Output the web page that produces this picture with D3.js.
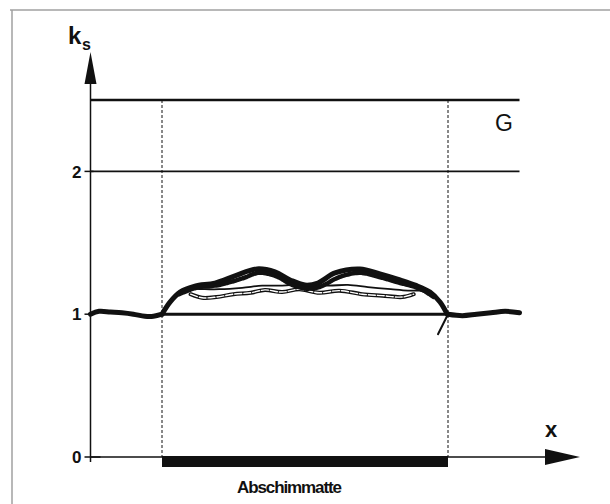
<!DOCTYPE html>
<html>
<head>
<meta charset="utf-8">
<script src="https://cdn.jsdelivr.net/npm/d3@7"></script>
<style>
  body { margin: 0; background: #fff; }
  svg { display: block; }
  text { font-family: "Liberation Sans", Arial, sans-serif; fill: #111; }
</style>
</head>
<body>
<div id="chart"></div>
<script>
// x: 0 = start of mat, 1 = end of mat; y: k_s
const yTicks = [0, 1, 2];
const levelLines = [2, 2.5];
const matExtent = [0, 1];

const outsideLeft = [[-0.25, 1.0], [-0.22, 1.02], [-0.18, 1.015], [-0.14, 1.01], [-0.1, 1.0], [-0.06, 0.985], [-0.03, 0.985], [0, 1.0]];
const outsideRight = [[1.0, 1.0], [1.05, 0.99], [1.1, 1.0], [1.15, 1.01], [1.2, 1.02], [1.25, 1.01]];

const upperSolid = [[0, 1.0], [0.028, 1.085], [0.063, 1.155], [0.115, 1.197], [0.185, 1.218], [0.255, 1.268], [0.332, 1.317],
  [0.395, 1.296], [0.448, 1.24], [0.5, 1.204], [0.545, 1.218], [0.605, 1.289], [0.692, 1.317], [0.762, 1.282],
  [0.832, 1.24], [0.885, 1.204], [0.937, 1.155], [0.972, 1.085], [0.997, 1.0]];
const upperDashed = [[0.06, 1.14], [0.12, 1.185], [0.2, 1.205], [0.28, 1.25], [0.34, 1.29], [0.4, 1.265], [0.45, 1.21],
  [0.5, 1.18], [0.55, 1.19], [0.62, 1.26], [0.69, 1.29], [0.76, 1.26], [0.83, 1.22], [0.9, 1.18], [0.95, 1.12]];
const lowerSolid = [[0.07, 1.15], [0.1, 1.175], [0.15, 1.175], [0.2, 1.175], [0.28, 1.185], [0.35, 1.2], [0.42, 1.2],
  [0.5, 1.21], [0.58, 1.2], [0.65, 1.205], [0.72, 1.19], [0.8, 1.175], [0.86, 1.165], [0.9, 1.165], [0.93, 1.15]];
const lowerOutlined = [[0.1, 1.14], [0.14, 1.115], [0.19, 1.12], [0.25, 1.14], [0.31, 1.15], [0.36, 1.17], [0.42, 1.155],
  [0.48, 1.175], [0.55, 1.15], [0.62, 1.165], [0.7, 1.14], [0.77, 1.13], [0.84, 1.12], [0.88, 1.14]];
const edgeSpike = [[0.965, 0.86], [1.0, 1.0]];

const width = 610, height = 504;
const x = d3.scaleLinear().domain([0, 1]).range([162, 448]);
const y = d3.scaleLinear().domain([0, 2.5]).range([457, 100]);
const x0 = x(-0.25), xEnd = x(1.25);

const svg = d3.select("#chart").append("svg").attr("width", width).attr("height", height);

// frame
svg.append("line").attr("x1", 10).attr("x2", 610).attr("y1", 10).attr("y2", 10)
  .attr("stroke", "#a0a0a0").attr("stroke-width", 1.5);
svg.append("line").attr("x1", 12).attr("x2", 12).attr("y1", 10).attr("y2", 504)
  .attr("stroke", "#a0a0a0").attr("stroke-width", 1.5);

// level lines
svg.selectAll(".level").data(levelLines).join("line")
  .attr("x1", x0).attr("x2", xEnd)
  .attr("y1", d => y(d)).attr("y2", d => y(d))
  .attr("stroke", "#111").attr("stroke-width", d => d === 2.5 ? 2.4 : 1.7);

// dashed mat borders
svg.selectAll(".border").data(matExtent).join("line")
  .attr("x1", d => x(d)).attr("x2", d => x(d))
  .attr("y1", y(2.5)).attr("y2", y(0))
  .attr("stroke", "#111").attr("stroke-width", 1).attr("stroke-dasharray", "3,2");

// k_s = 1 over the mat
svg.append("line").attr("x1", x(0)).attr("x2", x(1)).attr("y1", y(1)).attr("y2", y(1))
  .attr("stroke", "#111").attr("stroke-width", 3);

// axes
svg.append("line").attr("x1", x0).attr("x2", x0).attr("y1", y(0) + 5).attr("y2", 80)
  .attr("stroke", "#111").attr("stroke-width", 1.5);
svg.append("path").attr("d", `M${x0 - 6},84 L${x0},52 L${x0 + 6},84 Z`).attr("fill", "#111");
svg.append("line").attr("x1", x0).attr("x2", 548).attr("y1", y(0)).attr("y2", y(0))
  .attr("stroke", "#111").attr("stroke-width", 1.5);
svg.append("path").attr("d", `M545,${y(0) - 8} L580,${y(0)} L545,${y(0) + 8} Z`).attr("fill", "#111");

svg.selectAll(".tick").data(yTicks).join("line")
  .attr("x1", x0 - 6).attr("x2", d => d === 0 ? x0 + 10 : x0 + 3)
  .attr("y1", d => y(d)).attr("y2", d => y(d))
  .attr("stroke", "#111").attr("stroke-width", 1.5);
svg.selectAll(".ticklabel").data(yTicks).join("text")
  .attr("x", x0 - 9).attr("y", d => y(d)).attr("dy", "0.36em")
  .attr("text-anchor", "end").attr("font-size", 17).attr("font-weight", "bold")
  .text(d => d);

// mat bar
svg.append("rect").attr("x", x(0)).attr("y", y(0) - 1).attr("width", x(1) - x(0)).attr("height", 11)
  .attr("fill", "#111");

// curves
const line = d3.line().x(d => x(d[0])).y(d => y(d[1])).curve(d3.curveCatmullRom.alpha(0.5));
const g = svg.append("g").attr("fill", "none").attr("stroke", "#111").attr("stroke-linecap", "round");
g.append("path").attr("d", line(lowerOutlined)).attr("stroke-width", 4);
g.append("path").attr("d", line(lowerOutlined)).attr("stroke", "#fff").attr("stroke-width", 1.4)
  .attr("stroke-dasharray", "7,2");
g.append("path").attr("d", line(lowerSolid)).attr("stroke-width", 1.8);
g.append("path").attr("d", line(upperSolid)).attr("stroke-width", 5);
g.append("path").attr("d", line(upperDashed)).attr("stroke-width", 4.5).attr("stroke-dasharray", "4,1.5");
g.append("path").attr("d", line(outsideLeft)).attr("stroke-width", 5);
g.append("path").attr("d", line(outsideRight)).attr("stroke-width", 5);
g.append("path").attr("d", d3.line().x(d => x(d[0])).y(d => y(d[1]))(edgeSpike)).attr("stroke-width", 2);

// labels
svg.append("text").attr("x", 68).attr("y", 44).attr("font-size", 24).attr("font-weight", "bold").text("k");
svg.append("text").attr("x", 82).attr("y", 50).attr("font-size", 16).attr("font-weight", "bold").text("s");
svg.append("text").attr("x", 504).attr("y", 131).attr("font-size", 23).attr("text-anchor", "middle").text("G");
svg.append("text").attr("x", 551).attr("y", 437).attr("font-size", 22).attr("font-weight", "bold")
  .attr("text-anchor", "middle").text("x");
svg.append("text").attr("x", 289).attr("y", 493).attr("font-size", 17).attr("font-weight", "bold")
  .attr("letter-spacing", -1.1).attr("text-anchor", "middle").text("Abschimmatte");
</script>
</body>
</html>
